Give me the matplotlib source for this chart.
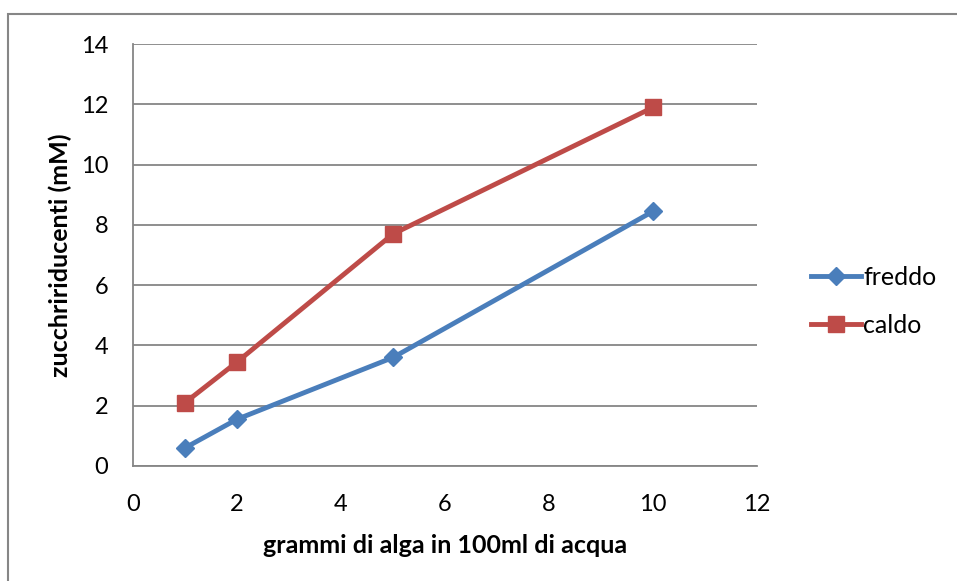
import matplotlib.pyplot as plt
from matplotlib.patches import Rectangle

plt.rcParams['font.family'] = ['Lato', 'DejaVu Sans']

grammi = [1, 2, 5, 10]
freddo = [0.6, 1.55, 3.6, 8.45]
caldo = [2.1, 3.45, 7.7, 11.9]

blu = '#4A7EBB'
rosso = '#BE4B48'
grigio = '#868686'

fig = plt.figure(figsize=(9.57, 5.81), dpi=100)
ax = fig.add_axes([0.139, 0.198, 0.652, 0.726])

ax.plot(grammi, freddo, color=blu, lw=3.5, marker='D', ms=9, label='freddo')
ax.plot(grammi, caldo, color=rosso, lw=3.5, marker='s', ms=12, label='caldo')

ax.set_xlim(0, 12)
ax.set_ylim(0, 14)
ax.set_xticks(range(0, 13, 2))
ax.set_yticks(range(0, 15, 2))
ax.tick_params(length=0, labelsize=17)
ax.tick_params(axis='x', pad=20)
ax.tick_params(axis='y', pad=18)
ax.grid(axis='y', color=grigio, lw=1.3)
ax.set_axisbelow(True)
for s in ['top', 'right']:
    ax.spines[s].set_visible(False)
for s in ['left', 'bottom']:
    ax.spines[s].set_color(grigio)
    ax.spines[s].set_linewidth(1.3)

ax.set_xlabel('grammi di alga in 100ml di acqua', fontsize=18, fontweight='bold', labelpad=14)
ax.set_ylabel('zucchririducenti (mM)', fontsize=18, fontweight='bold')
ax.yaxis.set_label_coords(-0.098, 0.5)

ax.legend(loc='center left', bbox_to_anchor=(1.05, 0.39), frameon=False,
          fontsize=18, handlelength=2.0, handletextpad=0.1, labelspacing=1.0)

# bordo esterno del grafico
fig.patches.append(Rectangle((0.008, -0.01), 1.2, 0.986, transform=fig.transFigure,
                             fill=False, edgecolor=grigio, lw=1.5))

fig.savefig('out.png', dpi=100)
